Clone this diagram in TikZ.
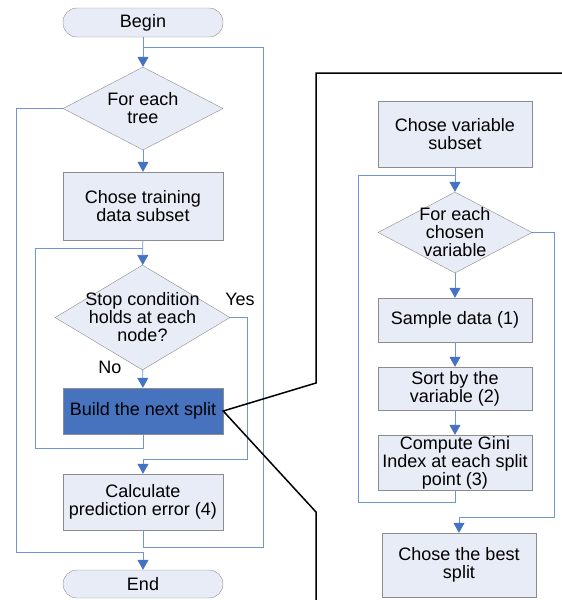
\documentclass[tikz,border=0pt]{standalone}
\usepackage{fontspec}
\setmainfont{Liberation Sans}
\usepackage{xcolor}
\usepackage{tikz}
\usetikzlibrary{shapes.geometric,arrows.meta}

\definecolor{boxfill}{HTML}{E7ECF6}
\definecolor{boxline}{HTML}{8C8C8C}
\definecolor{flowblue}{HTML}{7096D2}
\definecolor{tipblue}{HTML}{4472C4}
\definecolor{splitblue}{HTML}{4672BE}

\begin{document}
\begin{tikzpicture}[x=1pt, y=-1pt,
                    font=\fontsize{18}{18}\selectfont,
                    box/.style={draw=boxline, fill=boxfill, align=center, inner sep=0pt},
                    term/.style={box, rounded corners=14pt, minimum width=160, minimum height=29},
                    dia/.style={draw=boxline, fill=boxfill, diamond, inner sep=0pt},
                    flow/.style={draw=flowblue, line width=0.8pt,
                                 -{Triangle[width=11pt,length=10pt,color=tipblue]}},
                    link/.style={draw=flowblue, line width=0.8pt},
                    zoom/.style={draw=black, line width=1.5pt}]
  \useasboundingbox (0,0) rectangle (562,600);

  % outer loop
  \node[term] (begin) at (143,22.5) {Begin};
  \node[dia, minimum width=160, minimum height=83] (tree) at (143,108.5) {};
  \node[align=center] (treetxt) at (tree) {For each\\tree};
  \node[box, minimum width=160, minimum height=68] (train) at (143,206) {Chose training\\data subset};
  \node[dia, minimum width=175, minimum height=105] (stop) at (142.5,317.5) {};
  \node[align=center] (stoptxt) at (stop) {Stop condition\\holds at each\\node?};
  \node[box, fill=splitblue, minimum width=160, minimum height=46] (build) at (143,411) {Build the next split};
  \node[box, minimum width=160, minimum height=56] (calc) at (143,502) {Calculate\\prediction error (4)};
  \node[term, minimum height=28] (end) at (143,584) {End};
  \node (yes) at (240,299) {Yes};
  \node (no) at (110,367) {No};

  \coordinate (j1) at (143,47);
  \coordinate (j2) at (143,552);
  \coordinate (j3) at (143,248);
  \coordinate (j4) at (143,459);

  \draw[flow] (begin) -- (tree);
  \draw[flow] (tree) -- (train);
  \draw[flow] (train) -- (stop);
  \draw[flow] (stop) -- (build);
  \draw[link] (calc.south) -- ++(0,17) -- ++(120,0) |- (j1);
  \draw[flow] (tree.west) -- ++(-46,0) |- (j2) -- (end);
  \draw[link] (build.south) -- ++(0,14) -- ++(-108,0) |- (j3);
  \draw[flow] (stop.east) -- ++(17,0) |- (j4) -- (calc);

  % zoomed split
  \draw[zoom] (316,600) -- (316,512) -- (build.east) -- (316,383) -- (316,73) -- (562,73);

  \node[box, minimum width=154, minimum height=66] (vsub) at (455,134) {Chose variable\\subset};
  \node[dia, minimum width=154, minimum height=81] (chosen) at (455,232.5) {};
  \node[align=center] (chosentxt) at (chosen) {For each\\chosen\\variable};
  \node[box, minimum width=154, minimum height=44] (sample) at (455,320) {Sample data (1)};
  \node[box, minimum width=154, minimum height=43] (sort) at (455,388.5) {Sort by the\\variable (2)};
  \node[box, minimum width=154, minimum height=55] (gini) at (455,462.5) {Compute Gini\\Index at each split\\point (3)};
  \node[box, minimum width=154, minimum height=64] (best) at (459,565) {Chose the best\\split};

  \coordinate (j5) at (455,175);
  \coordinate (j6) at (459,517);

  \draw[flow] (vsub) -- (chosen);
  \draw[flow] (chosen) -- (sample);
  \draw[flow] (sample) -- (sort);
  \draw[flow] (sort) -- (gini);
  \draw[link] (gini.south) -- ++(0,12) -- ++(-97,0) |- (j5);
  \draw[flow] (chosen.east) -- ++(22,0) |- (j6) -- (best);
\end{tikzpicture}
\end{document}
